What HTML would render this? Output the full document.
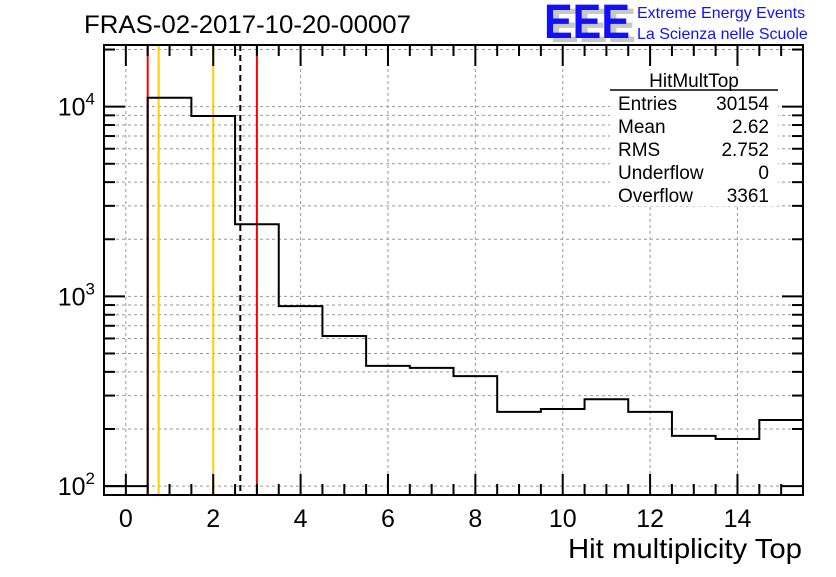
<!DOCTYPE html>
<html><head><meta charset="utf-8"><style>
body{margin:0;background:#fff}
svg text{font-family:"Liberation Sans",sans-serif}
</style></head><body>
<svg id="chart" width="836" height="572" xmlns="http://www.w3.org/2000/svg">
<rect width="836" height="572" fill="#fff"/>
<g id="grid"></g>
<g id="cuts"></g>
<g id="marks"></g>
<g id="axes"></g>
<g>
<rect x="610" y="70" width="168" height="136" fill="#fff"/>
<text x="694" y="87" font-size="19" text-anchor="middle">HitMultTop</text>
<line x1="610" y1="90" x2="778" y2="90" stroke="#000" stroke-width="1.5"/>
<g font-size="19">
<text x="618" y="110">Entries</text><text x="769" y="110" text-anchor="end">30154</text>
<text x="618" y="133">Mean</text><text x="769" y="133" text-anchor="end">2.62</text>
<text x="618" y="156">RMS</text><text x="769" y="156" text-anchor="end">2.752</text>
<text x="618" y="179">Underflow</text><text x="769" y="179" text-anchor="end">0</text>
<text x="618" y="202">Overflow</text><text x="769" y="202" text-anchor="end">3361</text>
</g></g>
<text x="84" y="33" font-size="25" textLength="327" lengthAdjust="spacingAndGlyphs">FRAS-02-2017-10-20-00007</text>
<g>
<text x="550" y="42" font-size="48" font-weight="bold" fill="#c8c8c8" textLength="86" lengthAdjust="spacingAndGlyphs">EEE</text>
<text x="544" y="38" font-size="48" font-weight="bold" fill="#1010ff" textLength="86" lengthAdjust="spacingAndGlyphs">EEE</text>
<text x="637" y="18" font-size="16" fill="#1010ff">Extreme Energy Events</text>
<text x="637" y="39" font-size="16" fill="#1010ff">La Scienza nelle Scuole</text>
</g>
<text x="802" y="558" font-size="28" text-anchor="end" textLength="234" lengthAdjust="spacingAndGlyphs">Hit multiplicity Top</text>
</svg>
<script>
const binLow=[-0.5,0.5,1.5,2.5,3.5,4.5,5.5,6.5,7.5,8.5,9.5,10.5,11.5,12.5,13.5,14.5];
const counts=[100,11150,8930,2400,889,618,430,420,380,246,255,287,246,184,177,223];
const xTicks=[0,2,4,6,8,10,12,14];
const yDecades=[2,3,4];
const redLines=[0.5,3.0];
const yellowLines=[0.75,2.0];
const meanLine=[2.62];
const L=104,R=803,T=45,B=495;
const xmin=-0.5,xmax=15.5,lmin=1.953,lmax=4.325;
const X=v=>L+(v-xmin)/(xmax-xmin)*(R-L);
const Y=v=>B-(Math.log10(v)-lmin)/(lmax-lmin)*(B-T);
const NS="http://www.w3.org/2000/svg";
function mk(p,t,a){const e=document.createElementNS(NS,t);for(const k in a)e.setAttribute(k,a[k]);p.appendChild(e);return e;}
const grid=document.getElementById('grid'),marks=document.getElementById('marks'),axes=document.getElementById('axes'),cuts=document.getElementById('cuts');
xTicks.forEach(t=>{const l=mk(grid,'line',{x1:X(t),x2:X(t),y1:T,y2:B,stroke:'#999','stroke-dasharray':'3,3','stroke-width':1});

});
yDecades.forEach(d=>{for(let m=1;m<10;m++){const v=m*Math.pow(10,d);const y=Y(v);if(y<T||y>B)continue;
const l=mk(grid,'line',{x1:L,x2:R,y1:y,y2:y,stroke:'#999','stroke-dasharray':'3,3','stroke-width':1});


mk(axes,'line',{x1:L,x2:L+(m==1?21:11),y1:y,y2:y,stroke:'#000','stroke-width':2});
mk(axes,'line',{x1:R,x2:R-(m==1?21:11),y1:y,y2:y,stroke:'#000','stroke-width':2});}
const tx=mk(axes,'text',{x:95,y:Y(Math.pow(10,d))+9,'font-size':25,'text-anchor':'end'});
tx.textContent='10';


const sp=mk(tx,'tspan',{dy:-11,'font-size':17});sp.textContent=d;});
function vline(v,c,name,dash){const l=mk(cuts,'line',{x1:X(v),x2:X(v),y1:T,y2:B,stroke:c,'stroke-width':2});if(dash)l.setAttribute('stroke-dasharray',dash);

}
redLines.forEach(v=>vline(v,'#ff0000','red-cut-line'));
yellowLines.forEach(v=>vline(v,'#ffcc00','yellow-cut-line'));
meanLine.forEach(v=>vline(v,'#000','mean-line','6,4'));
let p='M'+X(binLow[0])+','+Y(counts[0]);
binLow.forEach((b,i)=>{const y=Y(counts[i]);p+=' L'+X(b)+','+y+' L'+X(b+1)+','+y;});
const h=mk(marks,'path',{d:p,fill:'none',stroke:'#000','stroke-width':2});


mk(axes,'rect',{x:L,y:T,width:R-L,height:B-T,fill:'none',stroke:'#000','stroke-width':2});
for(let v=-0.5;v<=15.5;v+=0.5){const maj=Number.isInteger(v/2)&&Number.isInteger(v);const len=maj?21:11;
mk(axes,'line',{x1:X(v),x2:X(v),y1:B,y2:B-len,stroke:'#000','stroke-width':2});
mk(axes,'line',{x1:X(v),x2:X(v),y1:T,y2:T+len,stroke:'#000','stroke-width':2});}
xTicks.forEach(t=>{const tx=mk(axes,'text',{x:X(t),y:527,'font-size':25,'text-anchor':'middle'});tx.textContent=t;

});
</script>
</body></html>
